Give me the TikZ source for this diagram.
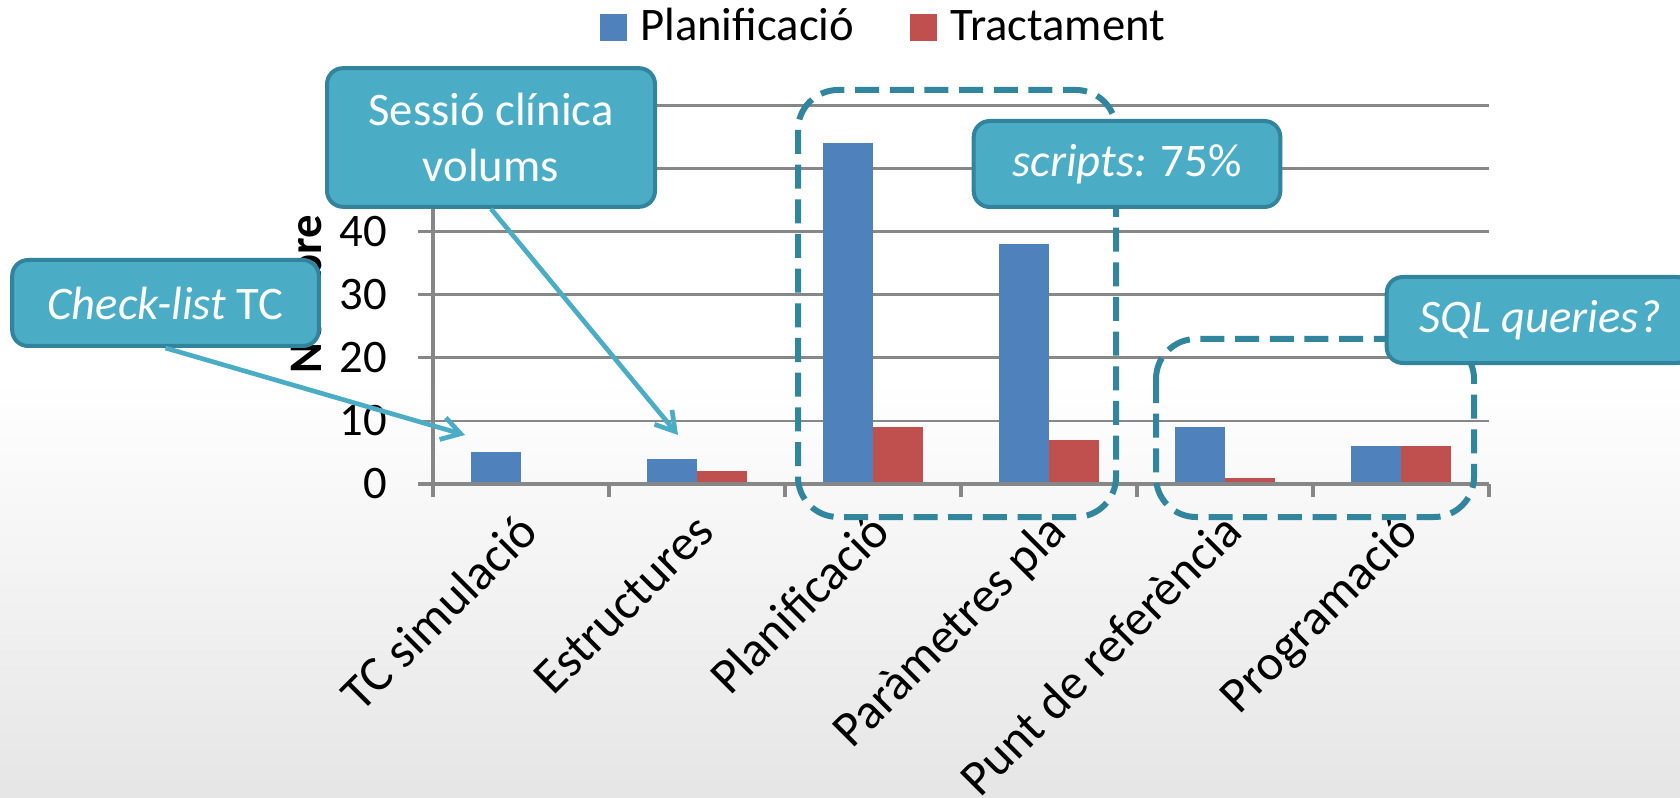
\documentclass[tikz,border=0pt]{standalone}
\usepackage{fontspec}
\setmainfont{Carlito}
\usetikzlibrary{arrows.meta}
\definecolor{planblue}{HTML}{4F81BD}
\definecolor{tractred}{HTML}{C0504D}
\definecolor{calloutfill}{HTML}{4BACC6}
\definecolor{calloutline}{HTML}{31849B}
\definecolor{groupline}{HTML}{31859C}
\definecolor{axisgray}{HTML}{878787}

\begin{document}
\begin{tikzpicture}[x=0.75pt,y=0.75pt,yscale=-1,xscale=1,
  every node/.style={font=\fontsize{35}{42}\selectfont},
  callout/.style={draw=calloutline, line width=3pt, fill=calloutfill, rounded corners=12pt,
    text=white, align=center, minimum width=230pt, minimum height=64.5pt, inner sep=0pt},
  groupbox/.style={draw=groupline, line width=4.5pt, dash pattern=on 18pt off 8pt, rounded corners=30pt},
  pointer/.style={draw=calloutfill, line width=3.5pt, -{Straight Barb[length=14pt,width=17pt]}},
  catlabel/.style={rotate=45, anchor=north east, inner sep=0pt, text height=0.75em, text depth=0.2em,
    font=\fontsize{37.5}{44}\selectfont},
  ticklabel/.style={anchor=east, inner sep=0pt},
  gridline/.style={draw=axisgray, line width=2pt},
]
  % background
  \clip (0,0) rectangle (1680,798);
  \fill[white] (0,0) rectangle (1680,798);
  \shade[top color=white, bottom color=black!10] (0,380) rectangle (1680,798);

  % grid, bars and axes
  \foreach \v in {10,20,...,60}
    \draw[gridline] (418,{484-6.31*\v}) -- (1489,{484-6.31*\v});
  \foreach \i/\p/\t in {0/5/0,1/4/2,2/54/9,3/38/7,4/9/1,5/6/6} {
    \fill[planblue] ({470.5+176*\i},484) rectangle ++(50,{-6.31*\p});
    \fill[tractred] ({520.5+176*\i},484) rectangle ++(50,{-6.31*\t});
  }
  \draw[gridline, line width=2.5pt] (433,105) -- (433,497);
  \draw[gridline, line width=2.5pt] (418,484) -- (1489,484);
  \foreach \i in {1,...,6}
    \draw[gridline, line width=2.5pt] ({433+176*\i},484) -- ({433+176*\i},497);

  \foreach \v in {0,10,...,40}
    \node[ticklabel] (tick\v) at (387,{484-6.31*\v}) {\v};
  \node[rotate=90, anchor=base, inner sep=0pt, font=\fontsize{35}{42}\selectfont\bfseries] (ytitle) at (321,294) {Nombre};

  \foreach \i/\name in {0/TC simulació,1/Estructures,2/Planificació,3/Paràmetres pla,4/Punt de referència,5/Programació}
    \node[catlabel] (cat\i) at ({533+176*\i},527) {\name};

  % legend
  \node[fill=planblue, minimum size=20.25pt, inner sep=0pt] (keyplan) at (613.5,27.5) {};
  \node[anchor=base west, inner sep=0pt] (legplan) at (640,41) {Planificació};
  \node[fill=tractred, minimum size=20.25pt, inner sep=0pt] (keytract) at (923.5,27.5) {};
  \node[anchor=base west, inner sep=0pt] (legtract) at (950,41) {Tractament};

  % groups
  \draw[groupbox] (798,90) rectangle (1116,517);
  \draw[groupbox] (1156,339) rectangle (1474,517);

  % callouts
  \node[callout, minimum width=246pt, minimum height=104pt] (sessio) at (491,137.5) {Sessió clínica\\volums};
  \node[callout] (checklist) at (165.5,303) {\textit{Check-list} TC};
  \node[callout] (scripts) at (1127,164) {\textit{scripts:} 75\%};
  \node[callout] (sql) at (1540,320) {\textit{SQL queries?}};

  \coordinate (tcbar) at (465,435);
  \coordinate (estbar) at (678,435);
  \draw[pointer] (checklist.south) -- (tcbar);
  \draw[pointer] (sessio.south) -- (estbar);
\end{tikzpicture}
\end{document}
